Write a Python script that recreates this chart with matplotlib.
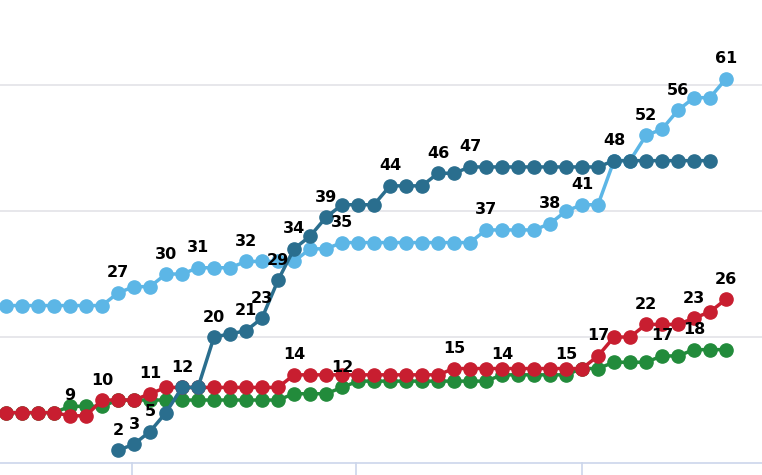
import matplotlib.pyplot as plt
import numpy as np

# series values by point index
light = [25]*7 + [27, 28, 28, 30, 30, 31, 31, 31, 32, 32, 32, 32, 34, 34] + [35]*9 + \
        [37, 37, 37, 37, 38, 40, 41, 41, 48, 48, 52, 53, 56, 58, 58, 61]
dark = [None]*7 + [2, 3, 5, 8, 12, 12, 20, 20.5, 21, 23, 29, 34, 36, 39, 41, 41, 41, 44, 44, 44,
                   46, 46] + [47]*9 + [48]*7
red = [8]*6 + [10, 10, 10, 11] + [12]*8 + [14]*10 + [15]*9 + [17, 20, 20, 22, 22, 22, 23, 24, 26]
red[4] = 7.5; red[5] = 7.5; red[6] = 10
green = [8]*4 + [9, 9, 9] + [10]*11 + [11]*3 + [12] + [13]*9 + [14]*5 + [15, 15, 16, 16, 16, 17, 17, 18, 18, 18]

labels_light = {7: 27, 10: 30, 12: 31, 15: 32, 21: 35, 30: 37, 34: 38, 36: 41, 40: 52, 42: 56, 45: 61}
labels_dark = {7: 2, 8: 3, 9: 5, 11: 12, 13: 20, 15: 21, 16: 23, 17: 29, 18: 34, 20: 39,
               24: 44, 27: 46, 29: 47, 38: 48}
labels_red = {4: 9, 6: 10, 9: 11, 18: 14, 28: 15, 37: 17, 40: 22, 43: 23, 45: 26}
labels_green = {21: 12, 31: 14, 35: 15, 41: 17, 43: 18}

fig = plt.figure(figsize=(7.62, 4.75), dpi=100)
ax = fig.add_axes([0, 0, 1, 1])
ax.set_xlim(-0.375, 47.25)
ax.set_ylim(-1.9, 73.5)

for yv in [20, 40, 60]:
    ax.axhline(yv, color='#e3e3e8', lw=1.2, zorder=0)
ax.axhline(0, color='#ccd6eb', lw=1.2, zorder=0)
for xv in [7.9, 21.9, 36.0]:
    ax.plot([xv, xv], [0, -1.9], color='#ccd6eb', lw=1.2, zorder=0)

series = [(green, '#228b3b', labels_green), (red, '#c81e30', labels_red),
          (light, '#5cb6e6', labels_light), (dark, '#2a6e8e', labels_dark)]
for vals, col, labs in series:
    x = np.array([i for i, v in enumerate(vals) if v is not None])
    y = np.array([v for v in vals if v is not None])
    ax.plot(x, y, color=col, lw=2.5, marker='o', ms=9.5, zorder=3)
    for i, t in labs.items():
        ax.annotate(str(t), (i, vals[i]), xytext=(0, 9), textcoords='offset points',
                    ha='center', va='bottom', fontsize=11.5, fontweight='bold', color='black', zorder=5)

ax.axis('off')
fig.savefig('out.png', dpi=100)
